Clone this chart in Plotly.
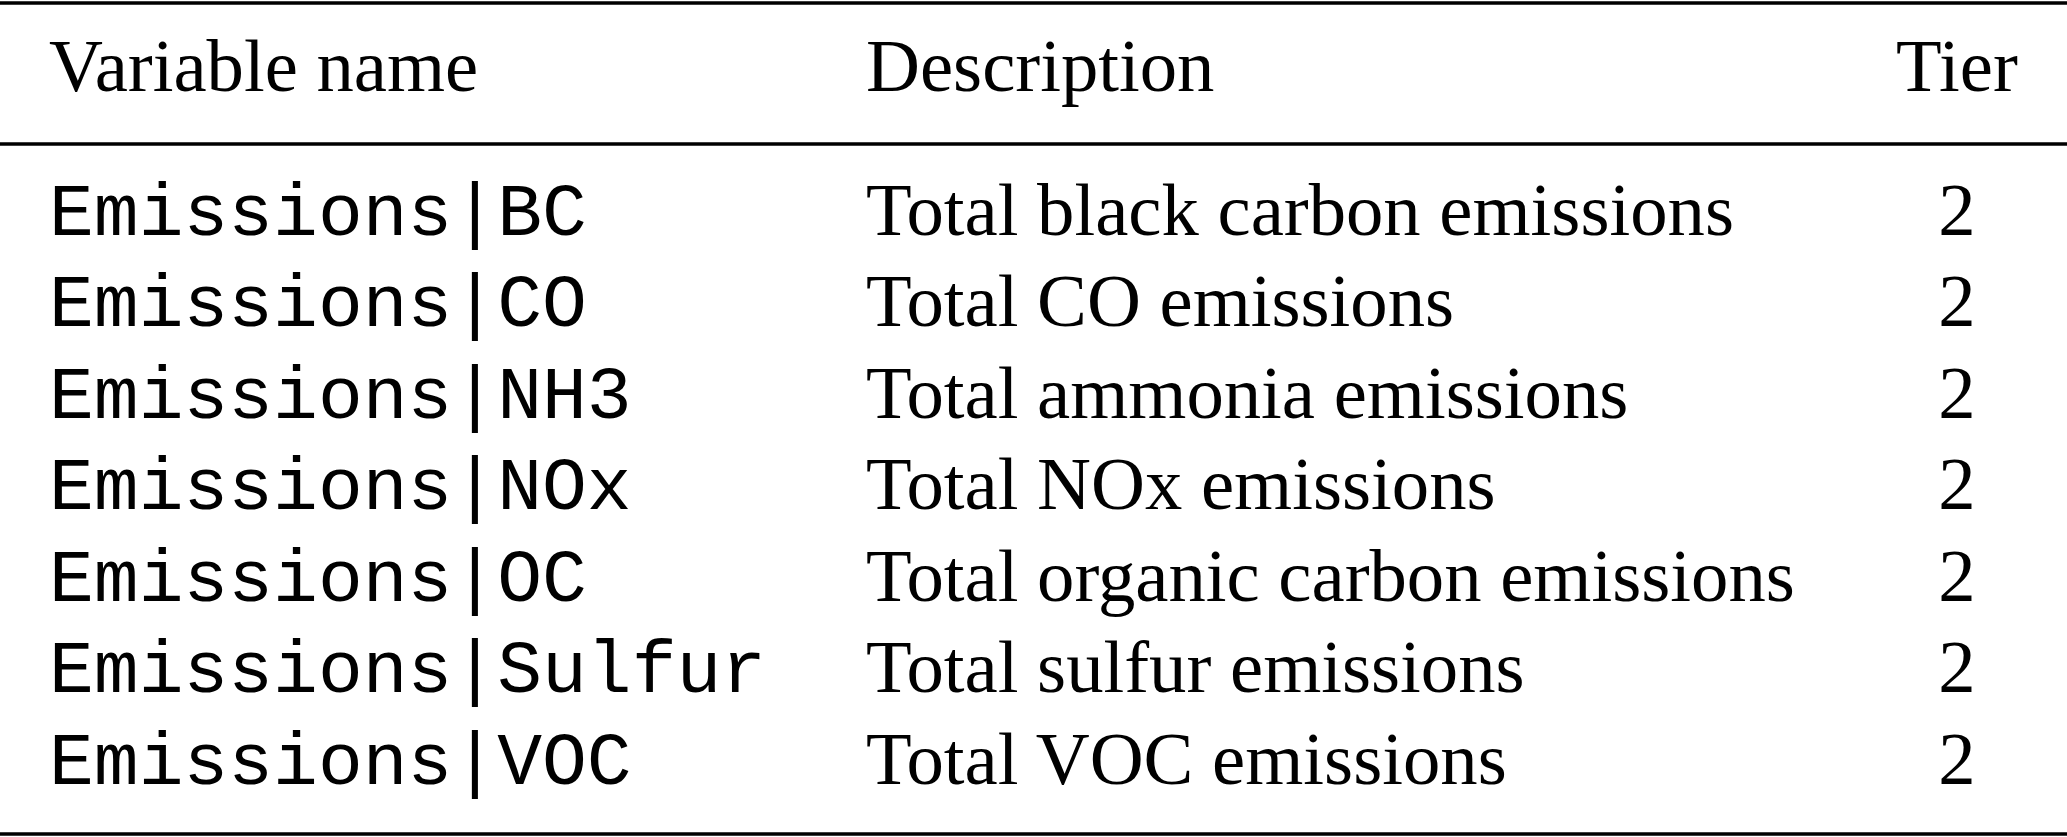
import plotly.graph_objects as go

# table contents
headers = ["Variable name", "Description", "Tier"]
variables = [
    "Emissions|BC",
    "Emissions|CO",
    "Emissions|NH3",
    "Emissions|NOx",
    "Emissions|OC",
    "Emissions|Sulfur",
    "Emissions|VOC",
]
descriptions = [
    "Total black carbon emissions",
    "Total CO emissions",
    "Total ammonia emissions",
    "Total NOx emissions",
    "Total organic carbon emissions",
    "Total sulfur emissions",
    "Total VOC emissions",
]
tiers = [2, 2, 2, 2, 2, 2, 2]

W, H = 2067, 837
SERIF = "Liberation Serif, Times New Roman, serif"
MONO = "Liberation Mono, Courier New, monospace"
FS = 74.7

# layout in pixel units (axes span the whole page)
col_x = [49, 866, 1957]
header_y = 72
row0_y = 216
row_h = 91.5
row_y = [row0_y + i * row_h for i in range(len(variables))]

fig = go.Figure()

# header row
fig.add_trace(go.Scatter(
    x=col_x[:2], y=[header_y] * 2, text=headers[:2], mode="text",
    textposition="middle right",
    textfont=dict(family=SERIF, size=FS, color="black"),
    hoverinfo="skip", showlegend=False))
fig.add_trace(go.Scatter(
    x=[col_x[2]], y=[header_y], text=[headers[2]], mode="text",
    textposition="middle center",
    textfont=dict(family=SERIF, size=FS, color="black"),
    hoverinfo="skip", showlegend=False))

# body
fig.add_trace(go.Scatter(
    x=[col_x[0]] * len(variables), y=row_y, text=variables, mode="text",
    textposition="middle right",
    textfont=dict(family=MONO, size=FS, color="black"),
    hoverinfo="skip", showlegend=False))
fig.add_trace(go.Scatter(
    x=[col_x[1]] * len(descriptions), y=row_y, text=descriptions,
    mode="text", textposition="middle right",
    textfont=dict(family=SERIF, size=FS, color="black"),
    hoverinfo="skip", showlegend=False))
fig.add_trace(go.Scatter(
    x=[col_x[2]] * len(tiers), y=row_y, text=[str(t) for t in tiers],
    mode="text", textposition="middle center",
    textfont=dict(family=SERIF, size=FS, color="black"),
    hoverinfo="skip", showlegend=False))

# booktabs style rules
for yy in [3, 144, 834]:
    fig.add_shape(type="line", xref="paper", yref="y", x0=0, x1=1,
                  y0=yy, y1=yy, line=dict(color="black", width=3.5))

fig.update_xaxes(range=[0, W], visible=False, fixedrange=True)
fig.update_yaxes(range=[H, 0], visible=False, fixedrange=True)
fig.update_layout(
    width=W, height=H,
    margin=dict(l=0, r=0, t=0, b=0),
    paper_bgcolor="white", plot_bgcolor="white",
)

# drop the default body margin so the figure fills the window exactly
fig.write_html("out.html", config={"displayModeBar": False},
               post_script="document.body.style.margin = '0';")
